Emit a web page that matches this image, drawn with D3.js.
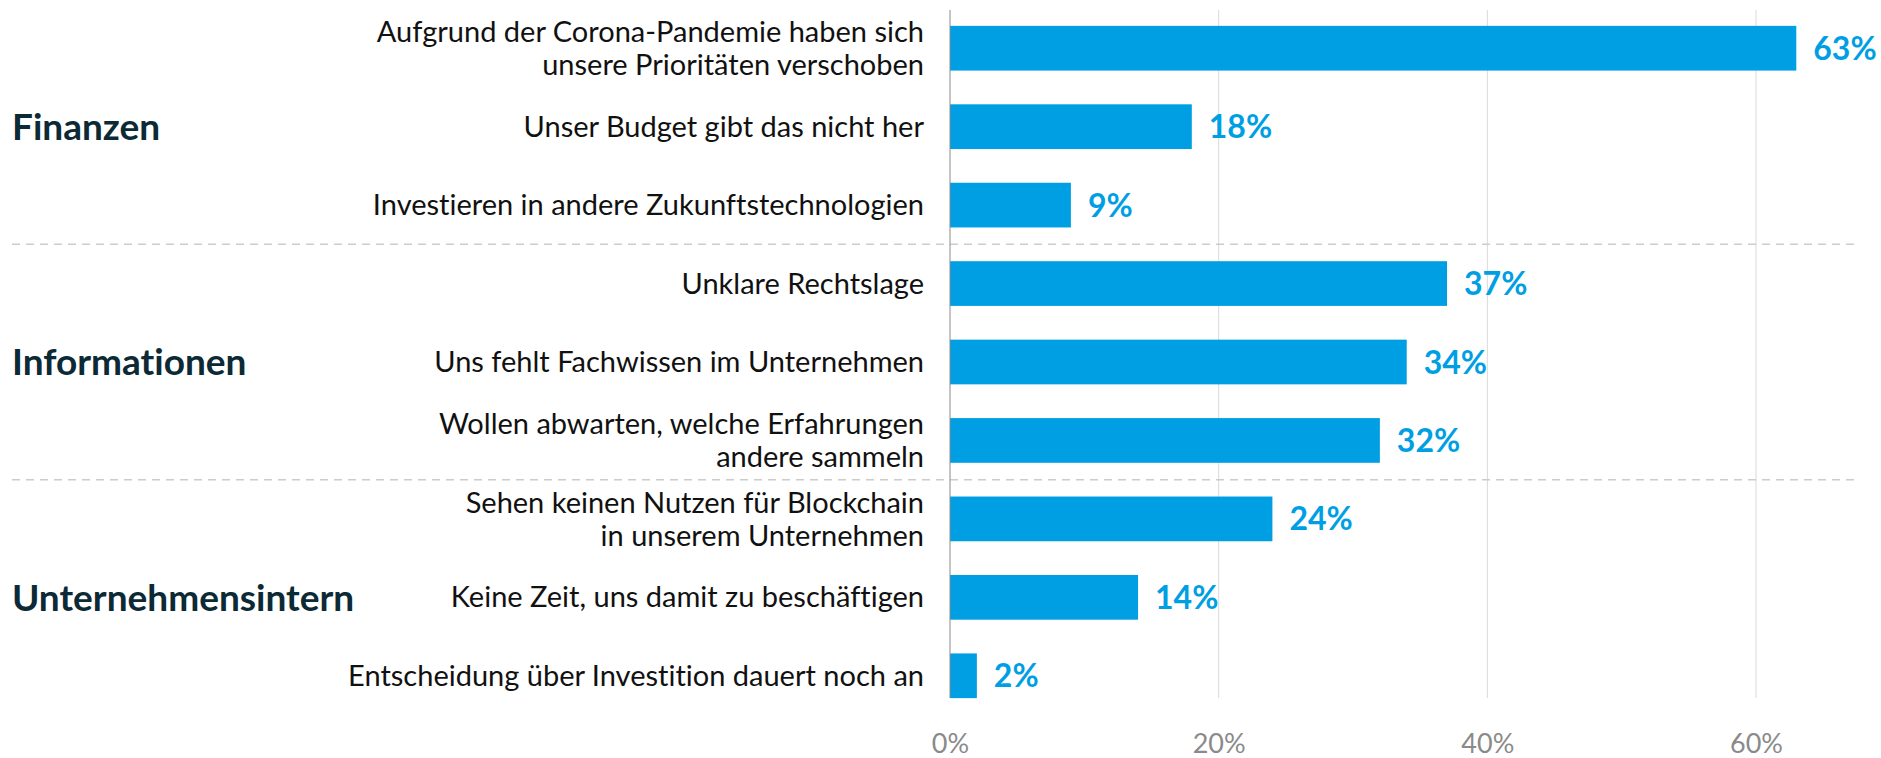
<!DOCTYPE html>
<html>
  <head>
    <meta charset="utf-8" />
    <script src="https://cdn.jsdelivr.net/npm/d3@7/dist/d3.min.js"></script>
    <style>
      body {
        margin: 0;
        background: white;
      }
      svg text {
        font-family: Lato, "Open Sans", sans-serif;
        font-variant-ligatures: none;
      }
    </style>
  </head>
  <body>
    <svg id="chart"></svg>
    <script>
      "use strict";

      // survey answers, top to bottom; "\n" marks a line break in the label
      var items = [
        "Aufgrund der Corona-Pandemie haben sich\nunsere Prioritäten verschoben",
        "Unser Budget gibt das nicht her",
        "Investieren in andere Zukunftstechnologien",
        "Unklare Rechtslage",
        "Uns fehlt Fachwissen im Unternehmen",
        "Wollen abwarten, welche Erfahrungen\nandere sammeln",
        "Sehen keinen Nutzen für Blockchain\nin unserem Unternehmen",
        "Keine Zeit, uns damit zu beschäftigen",
        "Entscheidung über Investition dauert noch an"
      ];
      var values = [63, 18, 9, 37, 34, 32, 24, 14, 2];

      var groups = ["Finanzen", "Informationen", "Unternehmensintern"];
      // which group each answer belongs to
      var itemGroup = [0, 0, 0, 1, 1, 1, 2, 2, 2];

      var ticks = [0, 20, 40, 60];

      var width = 1881,
        height = 758;

      const blue = "#009fe3",
        dark = "#0c2a35",
        grey = "#8a8a8a";

      var svg = d3
        .select("#chart")
        .attr("width", width)
        .attr("height", height);

      var x = d3.scaleLinear().domain([0, 60]).range([950, 1756]);

      var y = d3
        .scaleBand()
        .domain(d3.range(items.length))
        .range([9, 715])
        .paddingInner(0.43)
        .paddingOuter(0.215);

      var plotTop = 10,
        plotBottom = 698;

      // vertical grid lines
      svg
        .append("g")
        .selectAll("line")
        .data(ticks.slice(1))
        .enter()
        .append("line")
        .attr("x1", d => x(d))
        .attr("x2", d => x(d))
        .attr("y1", plotTop)
        .attr("y2", plotBottom)
        .style("stroke", "#d9d9d9")
        .style("stroke-width", 1);

      // dashed separators between the groups
      var breaks = [];
      itemGroup.forEach((g, i) => {
        if (i > 0 && g !== itemGroup[i - 1]) breaks.push(i);
      });

      svg
        .append("g")
        .selectAll("line")
        .data(breaks)
        .enter()
        .append("line")
        .attr("x1", 12)
        .attr("x2", 1854)
        .attr("y1", d => (y(d - 1) + y.bandwidth() + y(d)) / 2)
        .attr("y2", d => (y(d - 1) + y.bandwidth() + y(d)) / 2)
        .style("stroke", "#cccccc")
        .style("stroke-width", 1.5)
        .style("stroke-dasharray", "8,6");

      // bars
      svg
        .append("g")
        .selectAll("rect")
        .data(values)
        .enter()
        .append("rect")
        .attr("x", x(0))
        .attr("y", (d, i) => y(i))
        .attr("width", d => x(d) - x(0))
        .attr("height", y.bandwidth())
        .style("fill", blue);

      // zero axis line
      svg
        .append("line")
        .attr("x1", x(0))
        .attr("x2", x(0))
        .attr("y1", plotTop)
        .attr("y2", plotBottom)
        .style("stroke", grey)
        .style("stroke-width", 1);

      // value labels
      svg
        .append("g")
        .selectAll("text")
        .data(values)
        .enter()
        .append("text")
        .attr("x", d => x(d) + 17)
        .attr("y", (d, i) => y(i) + y.bandwidth() / 2)
        .attr("dy", "0.36em")
        .style("font-size", "32px")
        .style("font-weight", "bold")
        .style("fill", blue)
        .text(d => d + "%");

      // answer labels, right aligned against the axis
      var labels = svg
        .append("g")
        .selectAll("text")
        .data(items)
        .enter()
        .append("text")
        .attr("text-anchor", "end")
        .style("font-size", "29px")
        .style("fill", "#111");

      var lineHeight = 33;
      labels.each(function(d, i) {
        var lines = d.split("\n");
        var cy = y(i) + y.bandwidth() / 2;
        var top = cy - ((lines.length - 1) * lineHeight) / 2;
        d3.select(this)
          .selectAll("tspan")
          .data(lines)
          .enter()
          .append("tspan")
          .attr("x", 924)
          .attr("y", (l, k) => top + k * lineHeight)
          .attr("dy", "0.35em")
          .text(l => l);
      });

      // group headings, centred on the middle answer of each group
      svg
        .append("g")
        .selectAll("text")
        .data(groups)
        .enter()
        .append("text")
        .attr("x", 12)
        .attr("y", (g, gi) => {
          var idx = d3.range(items.length).filter(i => itemGroup[i] === gi);
          return d3.mean(idx, i => y(i) + y.bandwidth() / 2);
        })
        .attr("dy", "0.36em")
        .style("font-size", "37px")
        .style("font-weight", "bold")
        .style("fill", dark)
        .text(g => g);

      // x axis tick labels
      var xAxis = d3
        .axisBottom(x)
        .tickValues(ticks)
        .tickSize(0)
        .tickPadding(0)
        .tickFormat(d => d + "%");

      var axisG = svg
        .append("g")
        .attr("transform", "translate(0," + 734 + ")")
        .call(xAxis);

      axisG.select(".domain").remove();
      axisG
        .selectAll("text")
        .style("font-family", "Lato, sans-serif")
        .style("font-size", "27px")
        .style("fill", grey);
    </script>
  </body>
</html>
